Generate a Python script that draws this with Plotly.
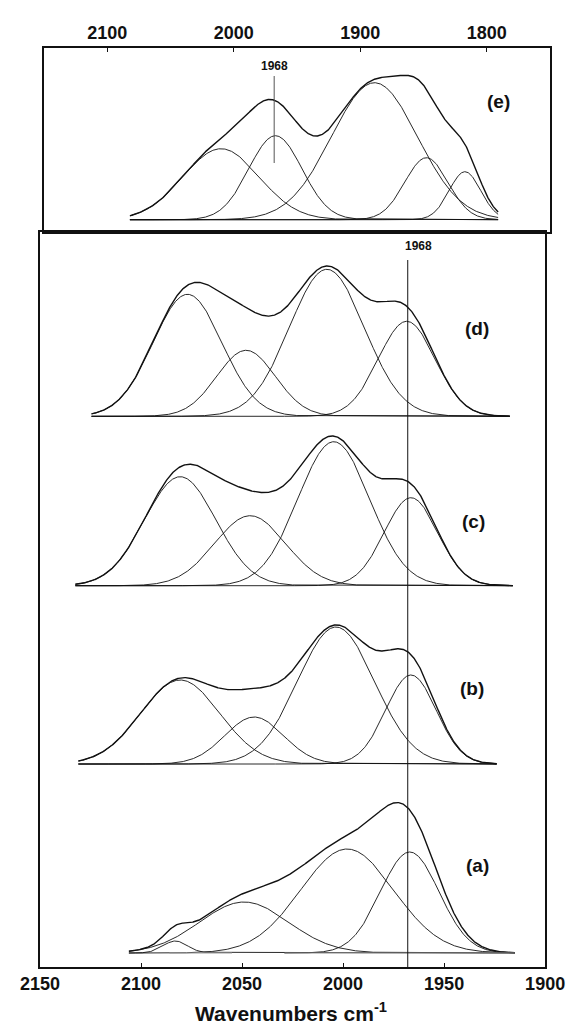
import numpy as np
import plotly.graph_objects as go

# ---------------- data ----------------
# Gaussian components of each deconvoluted spectrum: centre (cm-1), height, sigma (cm-1)
a_centers = [2083, 2049, 1998, 1967]
a_heights = [12, 51, 104, 101]
a_sigmas = [6, 22, 23, 14.5]
a_starts = [2106, 2106, 2106, 2029]
a_range = [2106, 1915]
a_baselines = [[2086, 2055], [2029, 1915]]

b_centers = [2080.6, 2044, 2003.5, 1966.4]
b_heights = [84, 47, 137, 89]
b_sigmas = [19.5, 14.5, 19, 12.5]
b_range = [2131, 1924]

c_centers = [2080.6, 2046, 2004.6, 1966.4]
c_heights = [109, 70, 144, 88]
c_sigmas = [17.6, 17.5, 17.7, 13.2]
c_range = [2132.6, 1916]

d_centers = [2077, 2048, 2008, 1968.5]
d_heights = [122, 66, 147, 95]
d_sigmas = [17, 14.5, 18.5, 14]
d_range = [2124.5, 1917.5]

e_centers = [2010, 1967, 1888.7, 1847.7, 1817.2]
e_heights = [71, 84, 137, 62, 48]
e_sigmas = [30, 21, 34, 17, 12.5]
e_range = [2082, 1791]

panel_labels = ["(a)", "(b)", "(c)", "(d)"]
marker_wavenumber = 1968
marker_label = "1968"
bottom_ticks = [2150, 2100, 2050, 2000, 1950, 1900]
top_ticks = [2100, 2000, 1900, 1800]

# ---------------- layout constants ----------------
STACK_OFFSET = {"(a)": 14, "(b)": 203, "(c)": 381.3, "(d)": 550.7}
TOP_BASE = 12.3
LABEL_POS = {"(a)": (1933.7, 102), "(b)": (1936.4, 279), "(c)": (1935.5, 446), "(d)": (1933.7, 639)}

FONT = "Liberation Sans, Arial, sans-serif"
INK = "#111111"


def gauss(x, c, h, s):
    return h * np.exp(-((x - c) ** 2) / (2.0 * s * s))


fig = go.Figure()


def add_spectrum(centers, heights, sigmas, rng, base, xa, ya, starts=None):
    x = np.arange(rng[1], rng[0] + 0.01, 0.25)
    total = np.zeros_like(x)
    for i, (c, h, s) in enumerate(zip(centers, heights, sigmas)):
        g = gauss(x, c, h, s)
        total += g
        lo = starts[i] if starts is not None else rng[0]
        m = x <= lo
        fig.add_trace(go.Scatter(x=x[m], y=g[m] + base, mode="lines",
                                 line=dict(color=INK, width=0.9), xaxis=xa, yaxis=ya,
                                 hoverinfo="skip", showlegend=False))
    fig.add_trace(go.Scatter(x=x, y=total + base, mode="lines",
                             line=dict(color=INK, width=1.4), xaxis=xa, yaxis=ya,
                             hoverinfo="skip", showlegend=False))


spectra = {
    "(a)": (a_centers, a_heights, a_sigmas, a_range, a_starts),
    "(b)": (b_centers, b_heights, b_sigmas, b_range, None),
    "(c)": (c_centers, c_heights, c_sigmas, c_range, None),
    "(d)": (d_centers, d_heights, d_sigmas, d_range, None),
}
for lab in panel_labels:
    cen, hei, sig, rng, st = spectra[lab]
    add_spectrum(cen, hei, sig, rng, STACK_OFFSET[lab], "x", "y", st)

# grey component baselines in (a)
for seg in a_baselines:
    fig.add_trace(go.Scatter(x=seg, y=[STACK_OFFSET["(a)"]] * 2, mode="lines",
                             line=dict(color="#9a9a9a", width=1.2), xaxis="x", yaxis="y",
                             hoverinfo="skip", showlegend=False))

add_spectrum(e_centers, e_heights, e_sigmas, e_range, TOP_BASE, "x2", "y2")

# 1968 marker lines
fig.add_trace(go.Scatter(x=[marker_wavenumber] * 2, y=[0, 707], mode="lines",
                         line=dict(color=INK, width=1), xaxis="x", yaxis="y",
                         hoverinfo="skip", showlegend=False))
fig.add_trace(go.Scatter(x=[marker_wavenumber] * 2, y=[69, 156], mode="lines",
                         line=dict(color="#555555", width=1), xaxis="x2", yaxis="y2",
                         hoverinfo="skip", showlegend=False))

ann = []
for lab in panel_labels:
    px, py = LABEL_POS[lab]
    ann.append(dict(x=px, y=py, xref="x", yref="y", text=lab, showarrow=False,
                    font=dict(family=FONT, size=19, color=INK, weight="bold")))
ann.append(dict(x=1791, y=131, xref="x2", yref="y2", text="(e)", showarrow=False,
                font=dict(family=FONT, size=19, color=INK, weight="bold")))
ann.append(dict(x=1962.7, y=721, xref="x", yref="y", text=marker_label, showarrow=False,
                font=dict(family=FONT, size=12, color=INK, weight="bold")))
ann.append(dict(x=marker_wavenumber, y=166, xref="x2", yref="y2", text=marker_label, showarrow=False,
                font=dict(family=FONT, size=12, color=INK, weight="bold")))
ann.append(dict(x=0.492, y=(959 - 1019) / 919, xref="paper", yref="paper",
                text="Wavenumbers cm<sup>-1</sup>",
                showarrow=False, yanchor="bottom",
                font=dict(family=FONT, size=21, color=INK, weight="bold")))

split = 735 / 919
axis_common = dict(showgrid=False, zeroline=False, showline=True, linecolor=INK, linewidth=1.5,
                   mirror=True, ticks="inside", ticklen=4, tickwidth=1, tickcolor=INK,
                   tickfont=dict(family=FONT, size=18, color=INK, weight="bold"))
fig.update_layout(
    width=574, height=1023,
    margin=dict(l=32, r=18, t=40, b=64),
    paper_bgcolor="white", plot_bgcolor="white",
    showlegend=False,
    xaxis=dict(range=[2150, 1900], domain=[0, 519 / 524], tickvals=bottom_ticks,
               anchor="y", **axis_common),
    yaxis=dict(range=[0, 735], domain=[0, split], showgrid=False, zeroline=False,
               showticklabels=False, ticks="", showline=True, linecolor=INK, linewidth=1.5,
               mirror=True, anchor="x"),
    xaxis2=dict(range=[2150, 1750], domain=[4 / 524, 1], tickvals=top_ticks, side="top",
                anchor="y2", **axis_common),
    yaxis2=dict(range=[0, 184], domain=[split, 1], showgrid=False, zeroline=False,
                showticklabels=False, ticks="", showline=True, linecolor=INK, linewidth=1.5,
                mirror=True, anchor="x2"),
    annotations=ann,
)

fig.write_html("out.html")
